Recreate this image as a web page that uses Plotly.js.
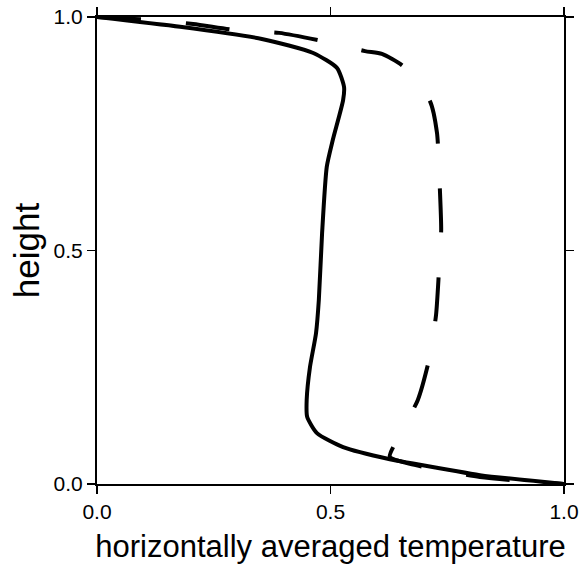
<!DOCTYPE html>
<html>
<head>
<meta charset="utf-8">
<script src="https://cdn.plot.ly/plotly-3.0.1.min.js"></script>
<style>html,body{margin:0;padding:0;background:#fff;}</style>
</head>
<body>
<div id="chart" style="width:580px;height:564px;"></div>
<script>
// solid profile (temperature, height)
const solidT = [0.0, 0.178, 0.353, 0.463, 0.514, 0.529, 0.527, 0.505, 0.492, 0.482, 0.475, 0.469, 0.456, 0.449, 0.450, 0.471, 0.527, 0.627, 0.670, 0.820, 1.0];
const solidH = [1.0, 0.979, 0.953, 0.923, 0.891, 0.850, 0.822, 0.737, 0.679, 0.537, 0.394, 0.323, 0.250, 0.180, 0.144, 0.109, 0.079, 0.053, 0.045, 0.019, 0.0];
// dashed profile (temperature, height)
const dashT = [0.0, 0.109, 0.206, 0.296, 0.390, 0.480, 0.574, 0.610, 0.655, 0.713, 0.728, 0.734, 0.737, 0.732, 0.726, 0.711, 0.687, 0.642, 0.627, 0.670, 0.820, 1.0];
const dashH = [1.0, 0.994, 0.985, 0.972, 0.966, 0.949, 0.927, 0.921, 0.895, 0.820, 0.752, 0.636, 0.544, 0.452, 0.362, 0.266, 0.180, 0.094, 0.058, 0.043, 0.015, 0.0];
const tickVals = [0, 0.5, 1];
const tickText = ["0.0", "0.5", "1.0"];

const traces = [
  {x: solidT, y: solidH, type: 'scatter', mode: 'lines', line: {color: '#000', width: 4, shape: 'spline', smoothing: 0.6}, hoverinfo: 'skip'},
  {x: dashT, y: dashH, type: 'scatter', mode: 'lines', line: {color: '#000', width: 4, dash: '44px,45px', shape: 'spline', smoothing: 0.6}, hoverinfo: 'skip'}
];
const axisCommon = {
  range: [0, 1], tickvals: tickVals, ticktext: tickText,
  ticks: 'outside', ticklen: 8, tickwidth: 1.5, tickcolor: '#000',
  showline: true, linecolor: '#000', linewidth: 2, mirror: 'ticks',
  showgrid: false, zeroline: false, ticklabeloverflow: 'allow',
  tickfont: {family: 'Liberation Sans, Arial, sans-serif', size: 21, color: '#000'}
};
const layout = {
  width: 580, height: 564,
  margin: {l: 97, r: 16, t: 17, b: 80},
  paper_bgcolor: '#fff', plot_bgcolor: '#fff',
  showlegend: false,
  xaxis: Object.assign({}, axisCommon, {title: {text: 'horizontally averaged temperature', font: {family: 'Liberation Sans, Arial, sans-serif', size: 31, color: '#000'}, standoff: 13}}),
  yaxis: Object.assign({}, axisCommon, {title: {text: 'height', font: {family: 'Liberation Sans, Arial, sans-serif', size: 35, color: '#000'}, standoff: 3}})
};
Plotly.newPlot('chart', traces, layout, {displayModeBar: false, staticPlot: true});
</script>
</body>
</html>
